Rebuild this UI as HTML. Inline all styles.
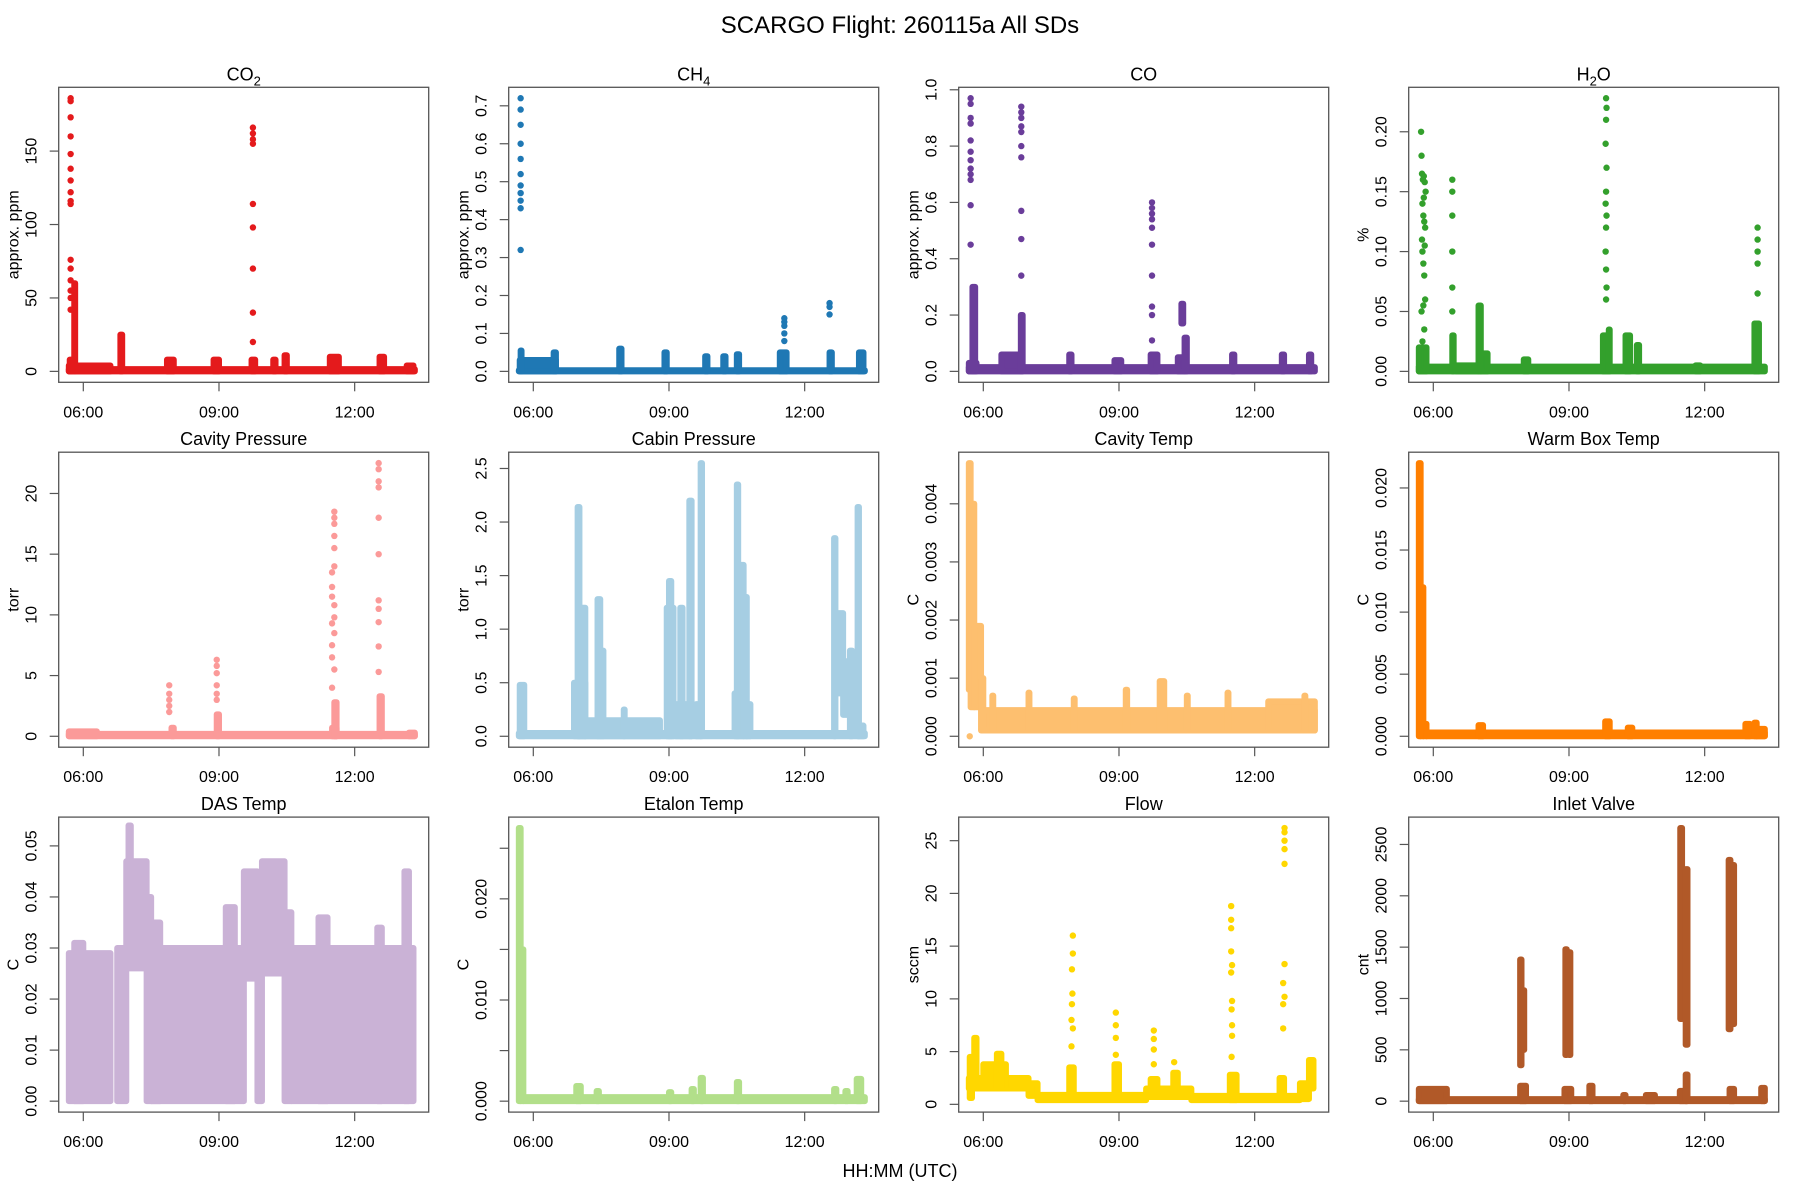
<!DOCTYPE html>
<html><head><meta charset="utf-8"><title>SCARGO Flight</title>
<style>html,body{margin:0;padding:0;background:#fff}svg{display:block}</style></head>
<body>
<svg id="fig" width="1800" height="1200" viewBox="0 0 1800 1200" xmlns="http://www.w3.org/2000/svg" font-family="Liberation Sans, sans-serif">
<rect width="1800" height="1200" fill="#fff"/>
<text x="900" y="33" font-size="24" text-anchor="middle">SCARGO Flight: 260115a  All SDs</text>
<text x="900" y="1177" font-size="18" text-anchor="middle">HH:MM (UTC)</text>
</svg>
<script>
// ---- data (time in decimal hours UTC) ----
const xTickValues=[6,9,12];
const xTickLabels=["06:00","09:00","12:00"];

const co2SegS=[5.68,5.68,5.7,5.8,6.82,7.85,8.88,9.72,10.2,10.45,11.45,12.55,13.15];
const co2SegE=[13.33,6.6,5.75,5.82,6.86,8.0,9.0,9.8,10.25,10.5,11.65,12.65,13.3];
const co2SegLo=[0,0,0,0,0,0,0,0,0,0,0,0,0];
const co2SegHi=[1.5,4,8,60,25,8,8,8,8,11,10,10,4];
const co2SpikeT=[5.72,5.72,5.72,5.72,5.72,5.72,5.72,5.72,5.72,5.72,5.72,5.72,5.72,5.72,5.72,5.72,9.75,9.75,9.75,9.75,9.75,9.75,9.75,9.75,9.75];
const co2SpikeV=[186,184,173,160,148,138,130,122,116,114,76,70,62,55,50,42,166,162,158,155,114,98,70,40,20];

const ch4SegS=[5.68,5.7,5.72,6.45,7.9,8.9,9.8,10.2,10.5,11.45,12.55,13.2];
const ch4SegE=[13.33,6.5,5.74,6.5,7.95,8.95,9.85,10.25,10.55,11.6,12.6,13.3];
const ch4SegLo=[0,0,0,0,0,0,0,0,0,0,0,0];
const ch4SegHi=[0.003,0.03,0.055,0.05,0.06,0.05,0.04,0.04,0.045,0.05,0.05,0.05];
const ch4SpikeT=[5.72,5.72,5.72,5.72,5.72,5.72,5.72,5.72,5.72,5.72,5.72,11.55,11.55,11.55,11.55,11.55,12.55,12.55,12.55];
const ch4SpikeV=[0.72,0.69,0.65,0.60,0.56,0.52,0.49,0.47,0.45,0.43,0.32,0.14,0.13,0.12,0.10,0.08,0.18,0.17,0.15];

const coSegS=[5.68,5.68,5.76,6.4,6.83,7.9,8.9,9.7,10.3,10.45,10.38,11.5,12.6,13.2];
const coSegE=[13.33,5.85,5.82,6.85,6.87,7.95,9.05,9.85,10.45,10.5,10.42,11.55,12.65,13.25];
const coSegLo=[0,0,0,0,0,0,0,0,0,0,0.17,0,0,0];
const coSegHi=[0.015,0.03,0.3,0.06,0.2,0.06,0.04,0.06,0.05,0.12,0.24,0.06,0.06,0.06];
const coSpikeT=[5.72,5.72,5.72,5.72,5.72,5.72,5.72,5.72,5.72,5.72,5.72,5.72,6.84,6.84,6.84,6.84,6.84,6.84,6.84,6.84,6.84,6.84,9.73,9.73,9.73,9.73,9.73,9.73,9.73,9.73,9.73,9.73];
const coSpikeV=[0.97,0.95,0.9,0.88,0.82,0.78,0.75,0.72,0.7,0.68,0.59,0.45,0.94,0.92,0.9,0.87,0.85,0.8,0.76,0.57,0.47,0.34,0.6,0.58,0.56,0.54,0.51,0.45,0.34,0.23,0.2,0.11];

const h2oSegS=[5.68,5.68,6.42,6.5,7.0,7.05,8.0,9.75,9.88,10.25,10.5,11.8,13.1];
const h2oSegE=[13.33,5.85,6.45,7.0,7.05,7.2,8.1,9.85,9.9,10.35,10.55,11.9,13.2];
const h2oSegLo=[0,0,0,0,0,0,0,0,0,0,0,0,0];
const h2oSegHi=[0.004,0.02,0.03,0.005,0.055,0.015,0.01,0.03,0.035,0.03,0.022,0.005,0.04];
const h2oSpikeT=[5.73,5.74,5.76,5.78,5.8,5.82,5.74,5.78,5.8,5.76,5.75,5.77,5.79,5.81,5.83,5.76,5.78,5.8,5.82,5.75,5.79,5.81,6.42,6.42,6.42,6.42,6.42,6.42,9.82,9.83,9.82,9.81,9.83,9.82,9.81,9.83,9.82,9.81,9.82,9.83,9.82,13.17,13.17,13.17,13.17,13.17];
const h2oSpikeV=[0.2,0.18,0.1,0.09,0.08,0.06,0.05,0.055,0.035,0.025,0.165,0.16,0.163,0.158,0.15,0.14,0.13,0.125,0.12,0.11,0.145,0.105,0.16,0.15,0.13,0.1,0.07,0.05,0.228,0.22,0.21,0.19,0.17,0.15,0.14,0.13,0.12,0.1,0.085,0.07,0.06,0.12,0.11,0.1,0.09,0.065];

const cavPSegS=[5.68,5.68,7.95,8.95,11.5,11.55,12.55,13.2];
const cavPSegE=[13.33,6.3,8.0,9.0,11.6,11.6,12.6,13.33];
const cavPSegLo=[0,0,0,0,0,0,0,0];
const cavPSegHi=[0.2,0.4,0.7,1.8,0.7,2.8,3.3,0.3];
const cavPSpikeT=[7.9,7.9,7.9,7.9,7.9,8.95,8.95,8.95,8.95,8.95,8.95,11.55,11.55,11.55,11.55,11.55,11.5,11.55,11.5,11.5,11.55,11.55,11.5,11.55,11.5,11.5,11.55,11.5,12.53,12.53,12.53,12.53,12.53,12.53,12.53,12.53,12.53,12.53,12.53];
const cavPSpikeV=[4.2,3.5,3,2.5,2,6.3,5.8,5.2,4.2,3.5,3,18.5,18,17.5,16.5,15.5,12.3,14,13.5,11.5,10.8,9.8,9.3,8.5,7.5,6.5,5.5,4,22.5,22,21,20.5,18,15,11.2,10.5,9.4,7.4,5.3];

const cabPSegS=[5.68,5.7,6.9,6.98,7.0,7.15,7.42,7.5,8.0,8.95,9.0,9.15,9.25,9.45,9.6,9.7,10.45,10.5,10.53,10.65,10.72,12.65,12.68,12.85,13.0,13.17,13.2];
const cabPSegE=[13.33,5.8,7.15,7.02,7.15,8.8,7.48,7.55,8.02,9.1,9.05,9.5,9.3,9.5,9.7,9.73,10.5,10.53,10.65,10.72,10.8,12.68,12.85,13.1,13.05,13.2,13.3];
const cabPSegLo=[0,0,0,0,0,0,0,0,0,0,0,0,0,0,0,0,0,0,0,0,0,0,0.4,0.2,0,0,0];
const cabPSegHi=[0.03,0.48,0.5,2.14,1.2,0.15,1.28,0.8,0.25,1.2,1.45,0.3,1.2,2.2,0.3,2.55,0.4,2.35,1.6,1.3,0.3,1.85,1.15,0.7,0.8,2.14,0.1];
const cabPSpikeT=[];const cabPSpikeV=[];

const cavTSegS=[5.68,5.72,5.8,5.95,6.0,6.2,7.0,8.0,9.15,9.9,10.5,11.4,12.3,13.1];
const cavTSegE=[5.72,5.8,5.95,6.0,13.33,6.22,7.02,8.02,9.18,10.0,10.52,11.42,13.33,13.12];
const cavTSegLo=[0.0008,0.0005,0.0005,0.0001,0.0001,0.0001,0.0001,0.0001,0.0001,0.0001,0.0001,0.0001,0.0001,0.0001];
const cavTSegHi=[0.0047,0.004,0.0019,0.001,0.00045,0.0007,0.00075,0.00065,0.0008,0.00095,0.0007,0.00075,0.0006,0.0007];
const cavTSpikeT=[5.7];const cavTSpikeV=[0];

const wbTSegS=[5.68,5.72,5.78,5.85,7.0,9.8,10.3,12.9,13.1,13.15];
const wbTSegE=[5.72,5.78,5.85,13.33,7.1,9.9,10.4,13.0,13.15,13.33];
const wbTSegLo=[0,0,0,0,0,0,0,0,0,0];
const wbTSegHi=[0.022,0.012,0.001,0.0003,0.0009,0.0012,0.0007,0.001,0.0011,0.0006];
const wbTSpikeT=[];const wbTSpikeV=[];

const dasTSegS=[5.68,5.8,6.75,6.95,7.0,7.4,7.5,7.5,9.15,9.55,9.85,9.95,10.45,10.6,11.2,12.5,13.1];
const dasTSegE=[6.6,6.0,6.95,7.4,7.05,7.5,9.55,7.7,9.35,9.85,9.95,10.45,10.6,13.3,11.4,12.6,13.2];
const dasTSegLo=[0,0,0,0.026,0.028,0,0,0,0,0.024,0,0.025,0,0,0,0,0];
const dasTSegHi=[0.029,0.031,0.03,0.047,0.054,0.04,0.03,0.035,0.038,0.045,0.04,0.047,0.037,0.03,0.036,0.034,0.045];
const dasTSpikeT=[];const dasTSpikeV=[];

const etTSegS=[5.68,5.72,5.78,6.95,7.4,9.0,9.5,9.7,10.5,12.65,12.9,13.15];
const etTSegE=[5.72,5.78,13.33,7.05,7.45,9.05,9.55,9.75,10.55,12.7,12.95,13.25];
const etTSegLo=[0,0,0,0,0,0,0,0,0,0,0,0];
const etTSegHi=[0.027,0.015,0.0004,0.0015,0.001,0.0009,0.0012,0.0023,0.0019,0.0012,0.001,0.0022];
const etTSpikeT=[];const etTSpikeV=[];

const flowSegS=[5.68,5.7,5.8,6.0,6.3,7.0,7.2,7.9,8.9,9.6,9.7,10.2,10.6,11.45,12.55,13.0,13.2];
const flowSegE=[7.0,5.75,5.85,6.5,6.4,7.2,9.6,8.0,9.0,10.6,9.85,10.3,13.0,11.6,12.65,13.2,13.3];
const flowSegLo=[1.5,0.6,1.5,1.5,1.5,0.8,0.4,0.8,0.6,0.7,0.8,0.8,0.4,0.4,0.5,0.5,1.5];
const flowSegHi=[2.5,4.5,6.3,3.8,4.8,2,0.9,3.5,3.8,1.5,2.4,3,0.8,2.8,2.5,2,4.2];
const flowSpikeT=[7.98,7.98,7.96,7.97,7.96,7.95,7.98,7.95,8.93,8.93,8.93,8.93,9.77,9.77,9.77,9.77,10.22,11.48,11.48,11.48,11.48,11.5,11.48,11.5,11.49,11.5,11.5,11.49,12.66,12.66,12.66,12.66,12.66,12.66,12.63,12.66,12.63,12.63];
const flowSpikeV=[16,14.3,12.8,10.5,9.5,8,7.2,5.5,8.7,7.5,6.3,4.7,7,6.2,5.2,3.8,4,18.8,17.5,16.7,14.5,13.2,12.5,9.8,9,7.5,6.5,4.5,26.2,25.8,25,24.2,22.8,13.3,11.5,10.2,9.5,7.2];

const inletSegS=[5.68,5.68,7.92,8.9,9.45,10.2,10.7,11.45,11.58,12.55,13.25,7.92,7.98,8.92,9.0,11.46,11.58,12.53,12.62];
const inletSegE=[13.33,6.3,8.05,9.05,9.52,10.25,10.9,11.6,11.62,12.65,13.33,7.95,8.01,8.95,9.03,11.5,11.62,12.57,12.65];
const inletSegLo=[0,0,0,0,0,0,0,0,0,0,0,350,500,450,450,800,550,700,750];
const inletSegHi=[20,120,150,120,150,60,60,100,260,120,130,1380,1080,1480,1450,2660,2260,2350,2300];
const inletSpikeT=[];const inletSpikeV=[];

// ---- panel config ----
const NS="http://www.w3.org/2000/svg";
const svg=document.getElementById('fig');
const panels=[
 {id:'co2',title:'CO',sub:'2',ylab:'approx. ppm',color:'#E41A1C',ymin:0,ymax:186,ticks:[0,50,100,150],labels:['0','50','100','150'],ss:co2SegS,se:co2SegE,sl:co2SegLo,sh:co2SegHi,pt:co2SpikeT,pv:co2SpikeV},
 {id:'ch4',title:'CH',sub:'4',ylab:'approx. ppm',color:'#1F78B4',ymin:0,ymax:0.72,ticks:[0,0.1,0.2,0.3,0.4,0.5,0.6,0.7],labels:['0.0','0.1','0.2','0.3','0.4','0.5','0.6','0.7'],ss:ch4SegS,se:ch4SegE,sl:ch4SegLo,sh:ch4SegHi,pt:ch4SpikeT,pv:ch4SpikeV},
 {id:'co',title:'CO',sub:'',ylab:'approx. ppm',color:'#6A3D9A',ymin:0,ymax:0.97,ticks:[0,0.2,0.4,0.6,0.8,1.0],labels:['0.0','0.2','0.4','0.6','0.8','1.0'],ss:coSegS,se:coSegE,sl:coSegLo,sh:coSegHi,pt:coSpikeT,pv:coSpikeV},
 {id:'h2o',title:'H',sub:'2',post:'O',ylab:'%',color:'#33A02C',ymin:0,ymax:0.228,ticks:[0,0.05,0.1,0.15,0.2],labels:['0.00','0.05','0.10','0.15','0.20'],ss:h2oSegS,se:h2oSegE,sl:h2oSegLo,sh:h2oSegHi,pt:h2oSpikeT,pv:h2oSpikeV},
 {id:'cavity-pressure',title:'Cavity Pressure',ylab:'torr',color:'#FB9A99',ymin:0,ymax:22.5,ticks:[0,5,10,15,20],labels:['0','5','10','15','20'],ss:cavPSegS,se:cavPSegE,sl:cavPSegLo,sh:cavPSegHi,pt:cavPSpikeT,pv:cavPSpikeV},
 {id:'cabin-pressure',title:'Cabin Pressure',ylab:'torr',color:'#A6CEE3',ymin:0,ymax:2.55,ticks:[0,0.5,1,1.5,2,2.5],labels:['0.0','0.5','1.0','1.5','2.0','2.5'],ss:cabPSegS,se:cabPSegE,sl:cabPSegLo,sh:cabPSegHi,pt:cabPSpikeT,pv:cabPSpikeV},
 {id:'cavity-temp',title:'Cavity Temp',ylab:'C',color:'#FDBF6F',ymin:0,ymax:0.0047,ticks:[0,0.001,0.002,0.003,0.004],labels:['0.000','0.001','0.002','0.003','0.004'],ss:cavTSegS,se:cavTSegE,sl:cavTSegLo,sh:cavTSegHi,pt:cavTSpikeT,pv:cavTSpikeV},
 {id:'warm-box-temp',title:'Warm Box Temp',ylab:'C',color:'#FF7F00',ymin:0,ymax:0.022,ticks:[0,0.005,0.01,0.015,0.02],labels:['0.000','0.005','0.010','0.015','0.020'],ss:wbTSegS,se:wbTSegE,sl:wbTSegLo,sh:wbTSegHi,pt:wbTSpikeT,pv:wbTSpikeV},
 {id:'das-temp',title:'DAS Temp',ylab:'C',color:'#CAB2D6',ymin:0,ymax:0.0535,ticks:[0,0.01,0.02,0.03,0.04,0.05],labels:['0.00','0.01','0.02','0.03','0.04','0.05'],ss:dasTSegS,se:dasTSegE,sl:dasTSegLo,sh:dasTSegHi,pt:dasTSpikeT,pv:dasTSpikeV},
 {id:'etalon-temp',title:'Etalon Temp',ylab:'C',color:'#B2DF8A',ymin:0,ymax:0.027,ticks:[0,0.005,0.01,0.015,0.02,0.025],labels:['0.000','','0.010','','0.020',''],ss:etTSegS,se:etTSegE,sl:etTSegLo,sh:etTSegHi,pt:etTSpikeT,pv:etTSpikeV},
 {id:'flow',title:'Flow',ylab:'sccm',color:'#FFD700',ymin:0.3,ymax:26.2,ticks:[0,5,10,15,20,25],labels:['0','5','10','15','20','25'],ss:flowSegS,se:flowSegE,sl:flowSegLo,sh:flowSegHi,pt:flowSpikeT,pv:flowSpikeV},
 {id:'inlet-valve',title:'Inlet Valve',ylab:'cnt',color:'#B15928',ymin:0,ymax:2660,ticks:[0,500,1000,1500,2000,2500],labels:['0','500','1000','1500','2000','2500'],ss:inletSegS,se:inletSegE,sl:inletSegLo,sh:inletSegHi,pt:inletSpikeT,pv:inletSpikeV}
];

function mk(tag,attrs,parent){const e=document.createElementNS(NS,tag);for(const k in attrs)e.setAttribute(k,attrs[k]);(parent||svg).appendChild(e);return e;}

const W=370,H=295;
panels.forEach((p,i)=>{
 const c=i%4,r=Math.floor(i/4);
 const L=58.7+c*450,T=87.3+r*364.9,B=T+H,R=L+W;
 const xs=t=>L+24.6+(t-6)*45.23;
 const rng=p.ymax-p.ymin;
 const lo=p.ymin-0.04*rng, hi=p.ymax+0.04*rng;
 const ys=v=>B-(v-lo)/(hi-lo)*H;
 const g=mk('g',{});
 
 
 for(let k=0;k<p.ss.length;k++){
  const x1=xs(p.ss[k]),x2=xs(p.se[k]),y1=ys(p.sh[k]),y2=ys(p.sl[k]);
  const seg=mk('rect',{x:x1,y:y1,width:Math.max(0.1,x2-x1),height:Math.max(0.1,y2-y1),fill:p.color,stroke:p.color,'stroke-width':6,'stroke-linejoin':'round'},g);
  
  
 }
 for(let k=0;k<p.pt.length;k++){
  const pt=mk('circle',{cx:xs(p.pt[k]),cy:ys(p.pv[k]),r:3.2,fill:p.color},g);
  
  
 }
 const box=mk('rect',{x:L,y:T,width:W,height:H,fill:'none',stroke:'#555','stroke-width':1.3},g);
 
 
 const tt=mk('text',{x:(L+R)/2,y:T-7,'font-size':18,'text-anchor':'middle'},g);
 
 
 tt.appendChild(document.createTextNode(p.title));
 if(p.sub){const s=mk('tspan',{dy:5,'font-size':13},tt);s.textContent=p.sub;}
 if(p.post){const s=mk('tspan',{dy:-5},tt);s.textContent=p.post;}
 p.ticks.forEach((v,k)=>{
  const y=ys(v);
  const tk=mk('line',{x1:L-9,x2:L,y1:y,y2:y,stroke:'#555','stroke-width':1.2},g);
  
  
  if(p.labels[k]){
   const lb=mk('text',{x:0,y:0,'font-size':16,'text-anchor':'middle',transform:`translate(${L-22},${y}) rotate(-90)`},g);
   
   
   lb.textContent=p.labels[k];
  }
 });
 const yl=mk('text',{x:0,y:0,'font-size':16,'text-anchor':'middle',transform:`translate(${L-40},${(T+B)/2}) rotate(-90)`},g);
 
 
 yl.textContent=p.ylab;
 xTickValues.forEach((t,k)=>{
  const x=xs(t);
  const tk=mk('line',{x1:x,x2:x,y1:B,y2:B+9,stroke:'#555','stroke-width':1.2},g);
  
  
  const lb=mk('text',{x:x,y:B+35,'font-size':16,'text-anchor':'middle'},g);
  
  
  lb.textContent=xTickLabels[k];
 });
});
</script>
</body></html>
